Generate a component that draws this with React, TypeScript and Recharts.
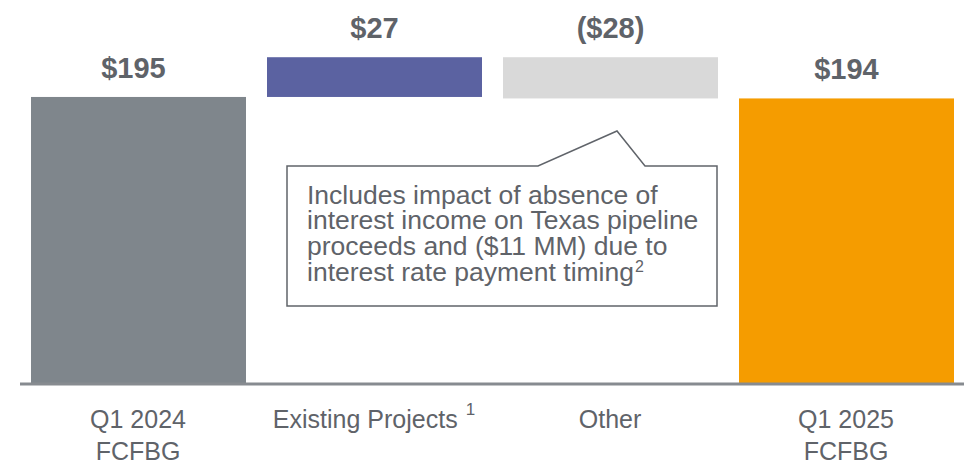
import React from 'react';
import { BarChart, Bar, XAxis, YAxis, LabelList } from 'recharts';

// waterfall: invisible base + visible step
const categories = ['Q1 2024 FCFBG', 'Existing Projects', 'Other', 'Q1 2025 FCFBG'];
const tickLines = [['Q1 2024', 'FCFBG'], ['Existing Projects'], ['Other'], ['Q1 2025', 'FCFBG']];
const tickNotes = ['', '1', '', ''];
const baseValues = [0, 195, 194, 0];
const stepValues = [195, 27, 28, 194];
const valueLabels = ['$195', '$27', '($28)', '$194'];
const barColors = ['#7f868c', '#5b62a1', '#d9d9d9', '#f59c00'];

const calloutLines = [
  'Includes impact of absence of',
  'interest income on Texas pipeline',
  'proceeds and ($11 MM) due to',
  'interest rate payment timing',
];

const FONT = '"Liberation Sans", Arial, sans-serif';
const TEXT = '#5f6369';

const data = categories.map((name, i) => ({
  name,
  base: baseValues[i],
  step: stepValues[i],
  label: valueLabels[i],
}));

const CategoryTick = (props: any) => {
  const { x, y, index } = props;
  const lines = tickLines[index] || [];
  const note = tickNotes[index];
  return (
    <g>
      {lines.map((line, i) => (
        <text
          key={i}
          x={x}
          y={y + 44 + i * 32}
          textAnchor="middle"
          fontFamily={FONT}
          fontSize={25}
          fill={TEXT}
        >
          {line}
          {note && i === 0 ? (
            <tspan fontSize={17} dx={8} dy={-13}>
              {note}
            </tspan>
          ) : null}
        </text>
      ))}
    </g>
  );
};

const StepLabel = (props: any) => {
  const { x, y, width, index } = props;
  return (
    <text
      x={x + width / 2 - (index === 0 ? 5 : 0)}
      y={y - 19}
      textAnchor="middle"
      fontFamily={FONT}
      fontWeight="bold"
      fontSize={29}
      fill={TEXT}
    >
      {valueLabels[index]}
    </text>
  );
};

const Callout = () => (
  <svg
    width={971}
    height={464}
    style={{ position: 'absolute', left: 0, top: 0, pointerEvents: 'none' }}
  >
    <path
      d="M287,166 L538,166 L617,131 L645,166 L717,166 L717,306 L287,306 Z"
      fill="#ffffff"
      stroke="#60646a"
      strokeWidth={1.5}
    />
    {calloutLines.map((line, i) => (
      <text key={i} x={307} y={203.5 + i * 25.8} fontFamily={FONT} fontSize={26.5} fill={TEXT}>
        {line}
        {i === calloutLines.length - 1 ? (
          <tspan fontSize={16} dx={1} dy={-9}>
            2
          </tspan>
        ) : null}
      </text>
    ))}
  </svg>
);

export default function App() {
  return (
    <div style={{ position: 'absolute', left: 0, top: 0, width: 971, height: 464, background: '#fff' }}>
      <BarChart
        width={971}
        height={464}
        data={data}
        margin={{ top: 16, right: 7, left: 20, bottom: 0 }}
        barSize={215}
      >
        <XAxis
          dataKey="name"
          interval={0}
          tickLine={false}
          tickSize={0}
          tickMargin={0}
          height={80}
          axisLine={{ stroke: '#878b90', strokeWidth: 3 }}
          tick={<CategoryTick />}
        />
        <YAxis hide domain={[0, 250]} />
        <Bar dataKey="base" stackId="w" fill="transparent" isAnimationActive={false} />
        <Bar dataKey="step" stackId="w" isAnimationActive={false} fill="#7f868c"
          shape={(p: any) => (
            <rect x={p.x} y={p.y} width={p.width} height={p.height} fill={barColors[p.index]} />
          )}
        >
          <LabelList dataKey="label" content={<StepLabel />} />
        </Bar>
      </BarChart>
      <Callout />
    </div>
  );
}
